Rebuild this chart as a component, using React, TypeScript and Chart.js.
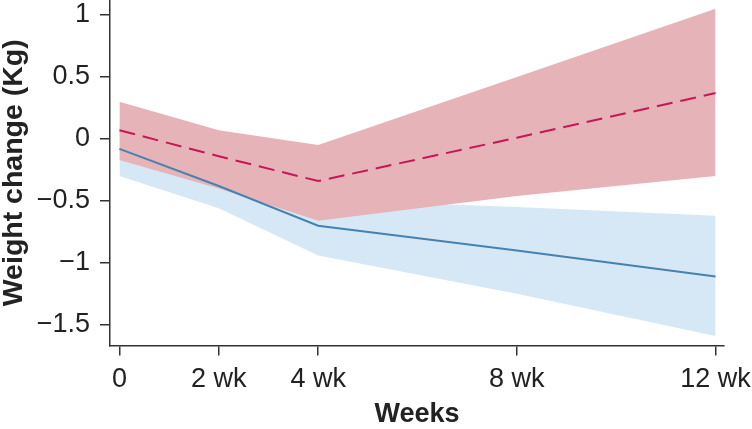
import React, { useEffect, useRef } from "react";
import { Chart, registerables } from "chart.js";

Chart.register(...registerables);

// Study weeks and their axis labels
const weeks = [0, 2, 4, 8, 12];
const weekTickLabels = ["0", "2 wk", "4 wk", "8 wk", "12 wk"];
const yTickValues = [-1.5, -1, -0.5, 0, 0.5, 1];

// Control group (dashed): mean weight change and confidence band
const controlMean = [0.07, -0.14, -0.34, 0.01, 0.37];
const controlUpper = [0.3, 0.07, -0.05, 0.5, 1.05];
const controlLower = [-0.17, -0.4, -0.66, -0.46, -0.3];

// Treatment group (solid): mean weight change and confidence band
const treatMean = [-0.08, -0.38, -0.7, -0.9, -1.11];
const treatUpper = [0.12, -0.17, -0.49, -0.55, -0.62];
const treatLower = [-0.3, -0.56, -0.94, -1.25, -1.59];

const FONT = "'Liberation Sans', Arial, Helvetica, sans-serif";
const AXIS = "#333333";
const TEXT = "#222222";

const toPoints = (ys: number[]) => weeks.map((x, i) => ({ x, y: ys[i] }));
const fmt = (v: number) => {
  const s = String(v);
  return s.startsWith("-") ? "\u2212" + s.slice(1) : s;
};

export default function App() {
  const ref = useRef<HTMLCanvasElement | null>(null);

  useEffect(() => {
    if (!ref.current) return;
    const band = {
      borderWidth: 0,
      pointRadius: 0,
      tension: 0,
    };
    const chart = new Chart(ref.current, {
      type: "line",
      data: {
        datasets: [
          {
            ...band,
            label: "treatLower",
            data: toPoints(treatLower),
            backgroundColor: "rgba(0,0,0,0)",
            fill: false,
            order: 6,
          },
          {
            ...band,
            label: "treatUpper",
            data: toPoints(treatUpper),
            backgroundColor: "rgb(214,232,245)",
            fill: "-1",
            order: 5,
          },
          {
            ...band,
            label: "controlLower",
            data: toPoints(controlLower),
            backgroundColor: "rgba(0,0,0,0)",
            fill: false,
            order: 4,
          },
          {
            ...band,
            label: "controlUpper",
            data: toPoints(controlUpper),
            backgroundColor: "rgb(230,180,184)",
            fill: "-1",
            order: 3,
          },
          {
            label: "Treatment",
            data: toPoints(treatMean),
            borderColor: "rgb(70,130,176)",
            borderWidth: 2,
            pointRadius: 0,
            tension: 0,
            fill: false,
            order: 1,
          },
          {
            label: "Control",
            data: toPoints(controlMean),
            borderColor: "rgb(198,22,88)",
            borderWidth: 2,
            borderDash: [16, 8],
            pointRadius: 0,
            tension: 0,
            fill: false,
            order: 0,
          },
        ],
      },
      options: {
        animation: false,
        responsive: false,
        devicePixelRatio: 1,
        layout: { padding: { left: 0, top: 0, right: 28, bottom: 0 } },
        plugins: {
          legend: { display: false },
          tooltip: { enabled: false },
        },
        scales: {
          x: {
            type: "linear",
            min: -0.19,
            max: 12.17,
            afterBuildTicks: (scale: any) => {
              scale.ticks = weeks.map((v) => ({ value: v }));
            },
            afterFit: (scale: any) => {
              scale.height = 83.5;
              scale.paddingLeft = 0;
              scale.paddingRight = 0;
            },
            ticks: {
              color: TEXT,
              font: { family: FONT, size: 27 },
              padding: 8,
              maxRotation: 0,
              autoSkip: false,
              callback: (v: any) => {
                const i = weeks.indexOf(Number(v));
                return i >= 0 ? weekTickLabels[i] : "";
              },
            },
            grid: {
              drawOnChartArea: false,
              drawTicks: true,
              tickLength: 10,
              color: AXIS,
              lineWidth: 1.5,
            },
            border: { display: true, color: AXIS, width: 1.5 },
            title: {
              display: true,
              text: "Weeks",
              color: TEXT,
              font: { family: FONT, size: 27, weight: "bold", lineHeight: 1.2 },
              padding: { top: 0, bottom: -2 },
            },
          },
          y: {
            type: "linear",
            min: -1.667,
            max: 1.121,
            afterBuildTicks: (scale: any) => {
              scale.ticks = yTickValues.map((v) => ({ value: v }));
            },
            afterFit: (scale: any) => {
              scale.width = 110;
              scale.paddingTop = 0;
              scale.paddingBottom = 0;
            },
            ticks: {
              color: TEXT,
              font: { family: FONT, size: 27 },
              padding: 10,
              autoSkip: false,
              callback: (v: any) => fmt(Number(v)),
            },
            grid: {
              drawOnChartArea: false,
              drawTicks: true,
              tickLength: 10,
              color: AXIS,
              lineWidth: 1.5,
            },
            border: { display: true, color: AXIS, width: 1.5 },
            title: {
              display: true,
              text: "Weight change (Kg)",
              color: TEXT,
              font: { family: FONT, size: 28.5, weight: "bold", lineHeight: 1 },
              padding: { top: 0, bottom: 0 },
            },
          },
        },
      },
    } as any);
    return () => chart.destroy();
  }, []);

  return (
    <div style={{ position: "absolute", left: 0, top: 0, width: 752, height: 429, background: "#fff" }}>
      <canvas ref={ref} width={752} height={429} />
    </div>
  );
}
